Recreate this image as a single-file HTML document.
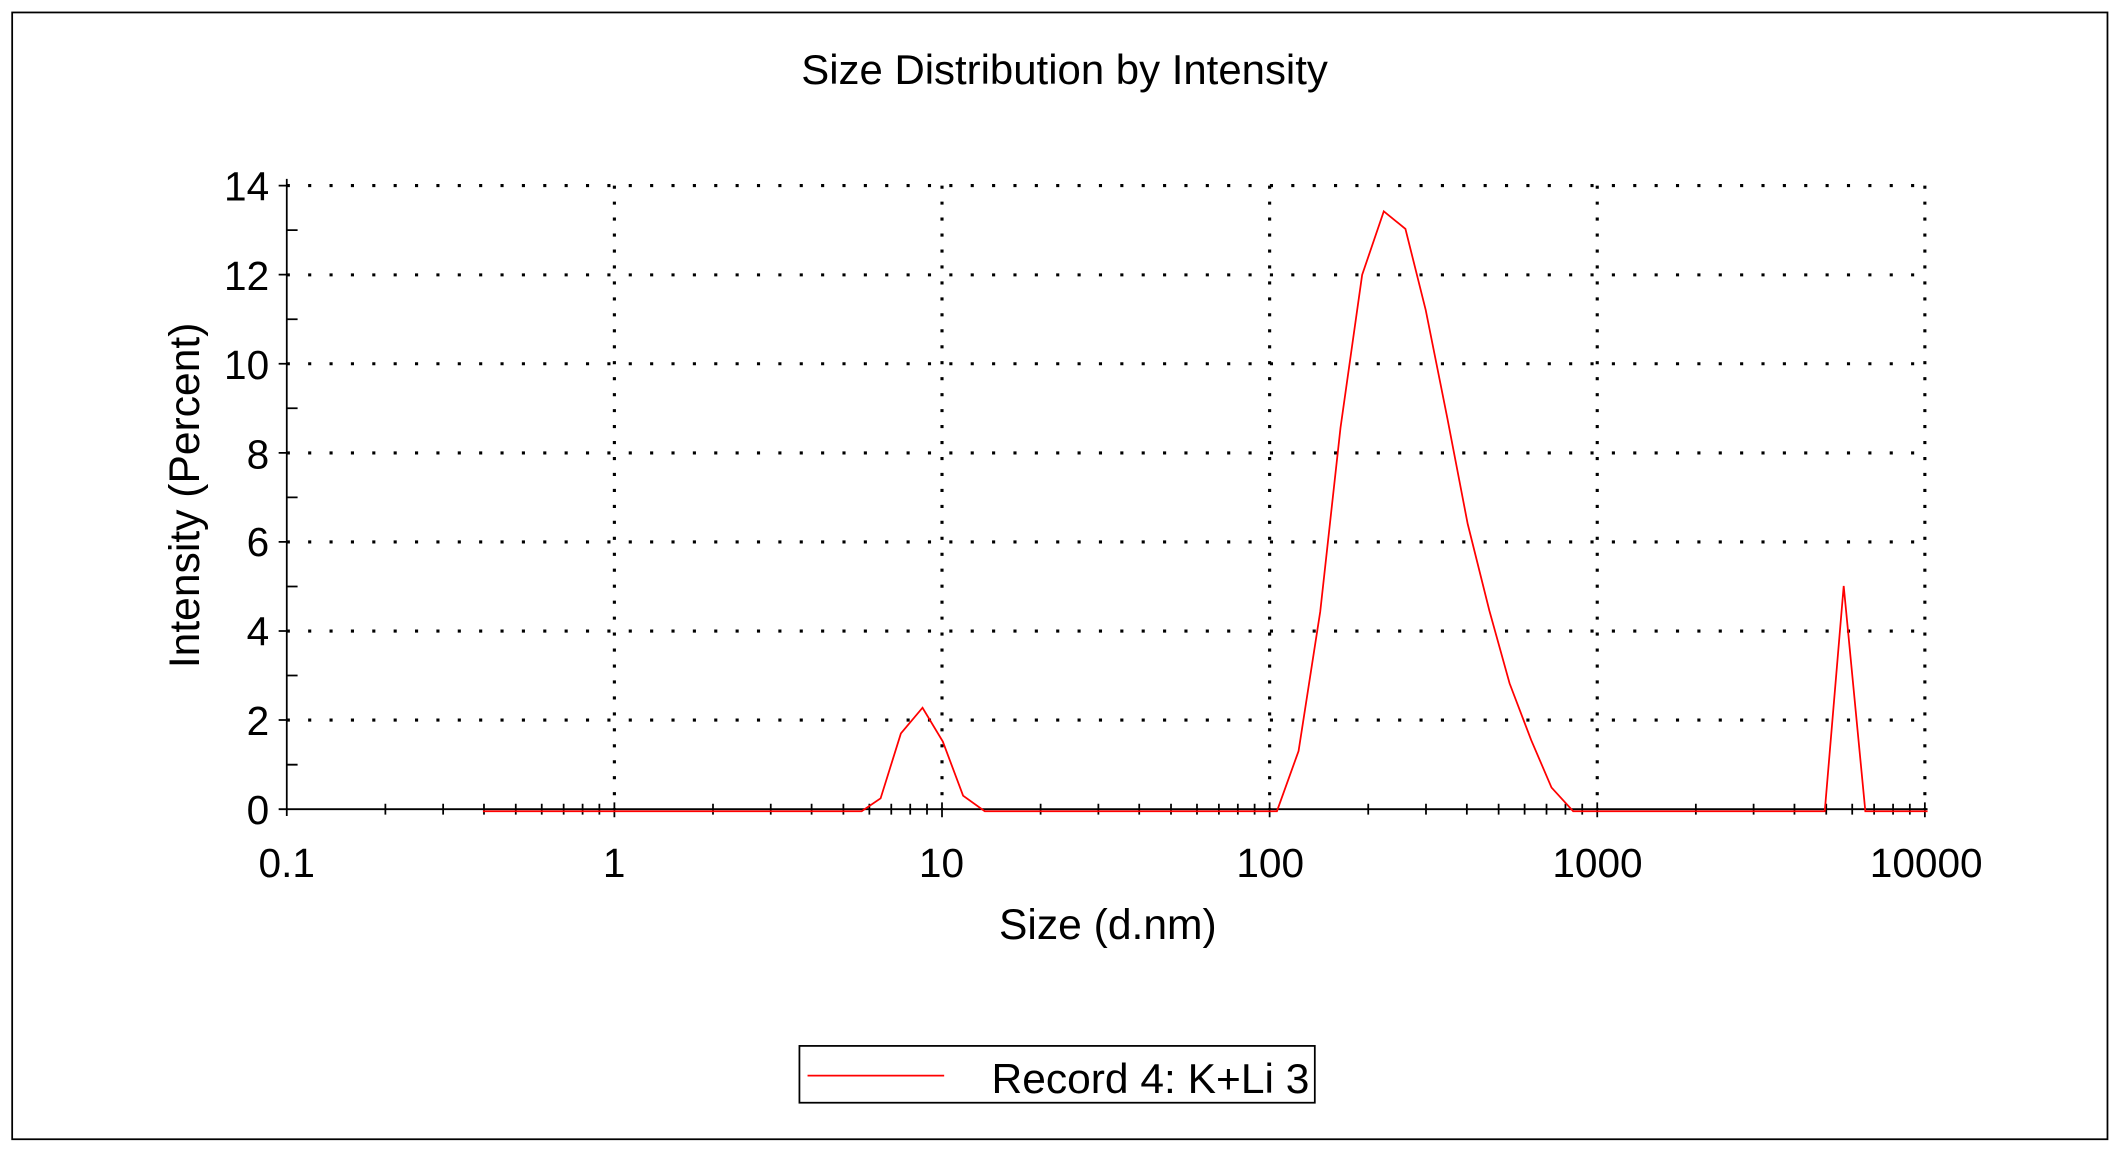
<!DOCTYPE html>
<html><head><meta charset="utf-8"><style>html,body{margin:0;padding:0;background:#fff}svg{display:block}</style></head>
<body>
<svg width="2121" height="1149" viewBox="0 0 1568 849" xmlns="http://www.w3.org/2000/svg" font-family="Liberation Sans, Arial, sans-serif">
<rect x="0" y="0" width="1568" height="849" fill="#fff"/>
<rect x="9" y="9" width="1549" height="833" fill="none" stroke="#000" stroke-width="1.3"/>
<text x="787" y="62" font-size="31" text-anchor="middle">Size Distribution by Intensity</text>
<g stroke="#000" stroke-width="2.3" stroke-dasharray="2.3 13.5" fill="none">
<line x1="212" y1="137" x2="1423" y2="137"/>
<line x1="212" y1="203" x2="1423" y2="203"/>
<line x1="212" y1="268.7" x2="1423" y2="268.7"/>
<line x1="212" y1="334.6" x2="1423" y2="334.6"/>
<line x1="212" y1="400.4" x2="1423" y2="400.4"/>
<line x1="212" y1="466.3" x2="1423" y2="466.3"/>
<line x1="212" y1="532.1" x2="1423" y2="532.1"/>
</g>
<g stroke="#000" stroke-width="2.3" stroke-dasharray="2.3 9.5" fill="none">
<line x1="454.2" y1="137" x2="454.2" y2="598"/>
<line x1="696.4" y1="137" x2="696.4" y2="598"/>
<line x1="938.6" y1="137" x2="938.6" y2="598"/>
<line x1="1180.8" y1="137" x2="1180.8" y2="598"/>
<line x1="1423" y1="137" x2="1423" y2="598"/>
</g>
<g stroke="#000" stroke-width="1.3" fill="none">
<line x1="212" y1="132" x2="212" y2="603"/>
<line x1="212" y1="598" x2="1425" y2="598"/>
</g>
<g id="ticks" stroke="#000" stroke-width="1.3"></g>
<g font-size="30" text-anchor="end">
<text x="199" y="148">14</text><text x="199" y="214">12</text><text x="199" y="280">10</text>
<text x="199" y="346">8</text><text x="199" y="411">6</text><text x="199" y="477">4</text>
<text x="199" y="543">2</text><text x="199" y="609">0</text>
</g>
<g font-size="30" text-anchor="middle">
<text x="212" y="648">0.1</text><text x="454" y="648">1</text><text x="696" y="648">10</text>
<text x="939" y="648">100</text><text x="1181" y="648">1000</text><text x="1424" y="648">10000</text>
</g>
<text x="819" y="694" font-size="31.5" text-anchor="middle">Size (d.nm)</text>
<text transform="translate(147,366) rotate(-90)" font-size="31.5" text-anchor="middle">Intensity (Percent)</text>
<polyline fill="none" stroke="#f00" stroke-width="1.3" stroke-linejoin="miter" points="357,599.5 637,599.5 651,590 666,542 682,523 697,548 712,588 728,599.5 944,599.5 960,555 976,452 991,316 1007,203 1023,156 1039,169 1054,229 1070,309 1085,387 1101,451 1116,505 1132,547 1147,582 1163,599.5 1349,599.5 1363,433 1379,599.5 1425,599.5"/>
<rect x="591" y="773" width="381" height="42" fill="none" stroke="#000" stroke-width="1.3"/>
<line x1="597" y1="795" x2="698" y2="795" stroke="#f00" stroke-width="1.3"/>
<text x="733" y="808" font-size="31" textLength="235" lengthAdjust="spacingAndGlyphs">Record 4: K+Li 3</text>
<script>
var g=document.getElementById('ticks'),s='';
for(var d=0;d<5;d++){var x0=212+242.2*d;for(var k=2;k<=9;k++){var x=x0+242.2*Math.log10(k);s+='M'+x.toFixed(1)+' 594V602';}}
for(var d=1;d<=5;d++){var x=212+242.2*d;s+='M'+x.toFixed(1)+' 593V604';}
for(var v=0;v<=14;v++){var y=598-v*32.93;if(v%2)s+='M212 '+y.toFixed(1)+'H220';else s+='M206 '+y.toFixed(1)+'H212';}
var p=document.createElementNS('http://www.w3.org/2000/svg','path');p.setAttribute('d',s);p.setAttribute('fill','none');g.appendChild(p);
</script>
</svg>
</body></html>
